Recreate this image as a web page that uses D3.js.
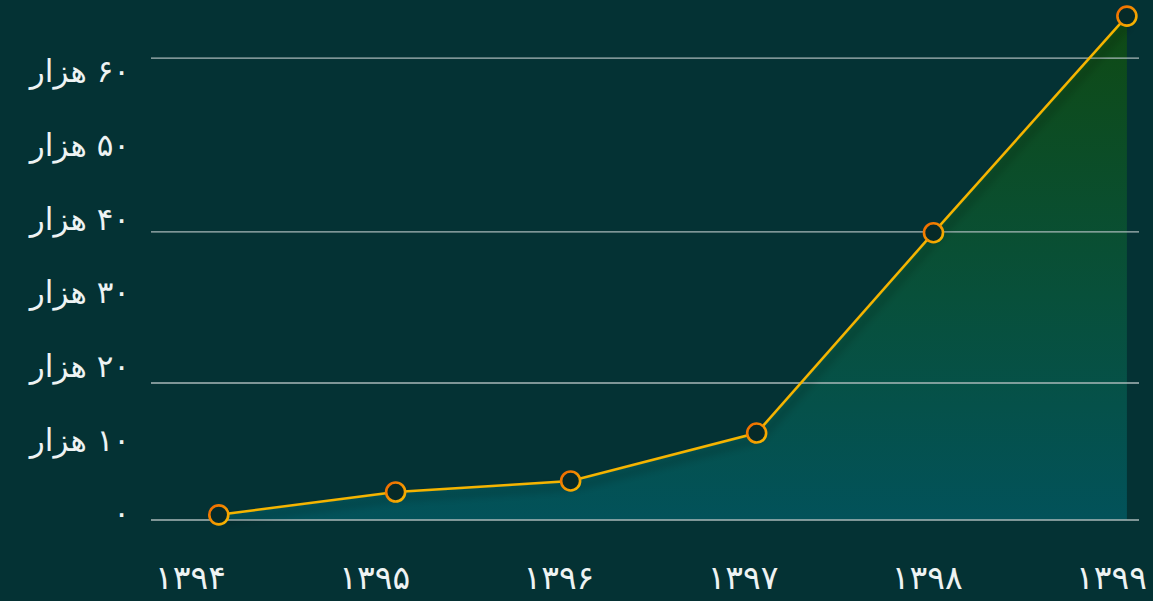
<!DOCTYPE html>
<html>
<head>
<meta charset="utf-8">
<script src="https://cdn.jsdelivr.net/npm/d3@7"></script>
<style>
  body { margin: 0; background: #043234; }
  svg { display: block; }
  .axis text { font-family: "DejaVu Sans", sans-serif; fill: #eef3f3; }
  .y-axis text { font-size: 31px; }
  .x-axis text { font-size: 33px; letter-spacing: 1px; }
</style>
</head>
<body>
<script>
// year labels on the x axis
const years = [1394, 1395, 1396, 1397, 1398, 1399];
// where each point sits (fraction of year) and its value
const pointYears = [1394.14, 1395.10, 1396.05, 1397.06, 1398.02, 1399.07];
const values = [700, 3800, 5300, 11800, 39000, 68400];
// y axis labels and the few gridlines that are drawn
const yTicks = [0, 10000, 20000, 30000, 40000, 50000, 60000];
const gridValues = [0, 18600, 39100, 62700];

const width = 1153, height = 601;
const faDigits = '۰۱۲۳۴۵۶۷۸۹';
const toFa = (s) => String(s).replace(/\d/g, (d) => faDigits[d]);

const x = d3.scaleLinear().domain([1394, 1399]).range([193, 1114]);
const y = d3.scaleLinear().domain([0, 60000]).range([520, 78]);

const svg = d3.select('body').append('svg')
  .attr('width', width)
  .attr('height', height);

const defs = svg.append('defs');

const areaGrad = defs.append('linearGradient')
  .attr('id', 'areaGrad')
  .attr('gradientUnits', 'userSpaceOnUse')
  .attr('x1', 0).attr('x2', 0)
  .attr('y1', y(values[5])).attr('y2', y(0));
areaGrad.append('stop').attr('offset', '0%').attr('stop-color', '#0f4a14');
areaGrad.append('stop').attr('offset', '55%').attr('stop-color', '#08503a');
areaGrad.append('stop').attr('offset', '100%').attr('stop-color', '#02525a');

const ringGrad = defs.append('linearGradient')
  .attr('id', 'ringGrad')
  .attr('x1', '0%').attr('y1', '0%').attr('x2', '100%').attr('y2', '100%');
ringGrad.append('stop').attr('offset', '0%').attr('stop-color', '#f06400');
ringGrad.append('stop').attr('offset', '100%').attr('stop-color', '#f7bd00');

const shadow = defs.append('filter')
  .attr('id', 'shadow')
  .attr('x', '-10%').attr('y', '-10%').attr('width', '120%').attr('height', '130%');
shadow.append('feDropShadow')
  .attr('dx', 3).attr('dy', 6)
  .attr('stdDeviation', 4)
  .attr('flood-color', '#000')
  .attr('flood-opacity', 0.45);

const points = pointYears.map((px, i) => ({ px, v: values[i] }));

// area under the line
svg.append('path')
  .datum(points)
  .attr('fill', 'url(#areaGrad)')
  .attr('d', d3.area().x((d) => x(d.px)).y0(y(0)).y1((d) => y(d.v)));

// gridlines
svg.append('g')
  .selectAll('line')
  .data(gridValues)
  .join('line')
  .attr('x1', 151).attr('x2', 1139)
  .attr('y1', (d) => y(d)).attr('y2', (d) => y(d))
  .attr('stroke', '#a9b9b9')
  .attr('stroke-width', 1.3);

// y labels
const yAxis = svg.append('g')
  .attr('class', 'axis y-axis')
  .attr('transform', 'translate(130,0)')
  .call(d3.axisLeft(y).tickValues(yTicks).tickSize(0)
    .tickFormat((d) => d === 0 ? toFa(0) : toFa(d / 1000) + ' هزار'));
yAxis.select('.domain').remove();
yAxis.selectAll('text')
  .attr('x', 0)
  .attr('dy', '0.32em')
  .attr('transform', 'translate(0,-6)')
  .attr('direction', 'rtl')
  .attr('text-anchor', 'start');

// x labels
const xAxis = svg.append('g')
  .attr('class', 'axis x-axis')
  .attr('transform', 'translate(0,566)')
  .call(d3.axisBottom(x).tickValues(years).tickSize(0).tickFormat((d) => toFa(d)));
xAxis.select('.domain').remove();
xAxis.selectAll('text').attr('y', 0).attr('dy', '0.71em').attr('dx', -3);

// line
svg.append('path')
  .datum(points)
  .attr('fill', 'none')
  .attr('stroke', '#f5b400')
  .attr('stroke-width', 2.5)
  .attr('filter', 'url(#shadow)')
  .attr('d', d3.line().x((d) => x(d.px)).y((d) => y(d.v)));

// markers
svg.append('g')
  .selectAll('circle')
  .data(points)
  .join('circle')
  .attr('cx', (d) => x(d.px))
  .attr('cy', (d) => y(d.v))
  .attr('r', 9.5)
  .attr('fill', '#062a28')
  .attr('stroke', 'url(#ringGrad)')
  .attr('stroke-width', 2.6);
</script>
</body>
</html>
